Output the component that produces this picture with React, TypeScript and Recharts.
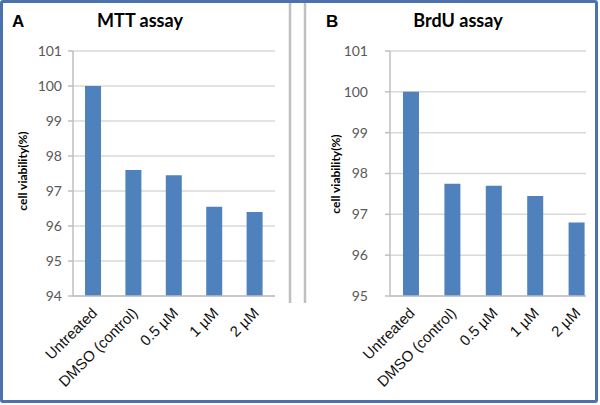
import React from 'react';
import { BarChart, Bar, XAxis, YAxis, CartesianGrid } from 'recharts';

// categories shared by both panels
const categories = ['Untreated', 'DMSO (control)', '0.5 µM', '1 µM', '2 µM'];
// cell viability (%)
const mttValues = [100, 97.6, 97.45, 96.55, 96.4];
const brduValues = [100, 97.75, 97.7, 97.45, 96.8];
const mttTicks = [94, 95, 96, 97, 98, 99, 100, 101];
const brduTicks = [95, 96, 97, 98, 99, 100, 101];

const mttData = categories.map((name, i) => ({ name, value: mttValues[i] }));
const brduData = categories.map((name, i) => ({ name, value: brduValues[i] }));

const barColor = '#4F81BD';
const axisGray = '#BFBFBF';
const gridGray = '#D9D9D9';
const tickFont = 'Lato, "Open Sans", sans-serif';
const labelFont = '"Liberation Sans", Arial, sans-serif';

const RotatedTick = (props: any) => {
  const { x, y, payload } = props;
  const ax = x + 5;
  const ay = y + 18;
  return (
    <text
      x={ax}
      y={ay}
      transform={`rotate(-45 ${ax} ${ay})`}
      textAnchor="end"
      fill="#111"
      fontSize={15}
      fontFamily={labelFont}
    >
      {payload.value}
    </text>
  );
};

export default function App() {
  return (
    <div style={{ position: 'absolute', left: 0, top: 0, width: 600, height: 405, background: '#fff', overflow: 'hidden' }}>
      {/* Panel A */}
      <div style={{ position: 'absolute', left: 0, top: 0 }}>
        <BarChart width={290} height={405} data={mttData} margin={{ top: 51, right: 15, bottom: 0, left: 0 }} barSize={16}>
          <CartesianGrid vertical={false} stroke={gridGray} strokeWidth={1.5} />
          <XAxis dataKey="name" interval={0} tickLine={false} tickSize={0} tickMargin={0} height={109}
            axisLine={{ stroke: axisGray, strokeWidth: 1.5 }} tick={<RotatedTick />} />
          <YAxis domain={[94, 101]} ticks={mttTicks} width={73} tickSize={5} tickMargin={6}
            axisLine={{ stroke: axisGray, strokeWidth: 1.5 }} tickLine={{ stroke: axisGray, strokeWidth: 1.5 }}
            tick={{ fill: '#595959', fontSize: 14, fontFamily: tickFont }} />
          <Bar dataKey="value" fill={barColor} isAnimationActive={false} />
        </BarChart>
      </div>
      {/* Panel B */}
      <div style={{ position: 'absolute', left: 300, top: 0 }}>
        <BarChart width={300} height={405} data={brduData} margin={{ top: 51, right: 14, bottom: 0, left: 0 }} barSize={16}>
          <CartesianGrid vertical={false} stroke={gridGray} strokeWidth={1.5} />
          <XAxis dataKey="name" interval={0} tickLine={false} tickSize={0} tickMargin={0} height={109}
            padding={{ left: 0, right: -11 }}
            axisLine={{ stroke: axisGray, strokeWidth: 1.5 }} tick={<RotatedTick />} />
          <YAxis domain={[95, 101]} ticks={brduTicks} width={90} tickSize={5} tickMargin={17}
            axisLine={{ stroke: axisGray, strokeWidth: 1.5 }} tickLine={{ stroke: axisGray, strokeWidth: 1.5 }}
            tick={{ fill: '#595959', fontSize: 14, fontFamily: tickFont }} />
          <Bar dataKey="value" fill={barColor} isAnimationActive={false} />
        </BarChart>
      </div>
      {/* titles, letters, separators */}
      <svg width={600} height={405} style={{ position: 'absolute', left: 0, top: 0, pointerEvents: 'none' }}>
        <line x1={290} y1={3} x2={290} y2={303} stroke={axisGray} strokeWidth={2.5} />
        <line x1={305} y1={3} x2={305} y2={303} stroke={axisGray} strokeWidth={2.5} />
        <text x={12} y={27} fontSize={17} fontWeight="bold" fontFamily={labelFont}>A</text>
        <text x={326} y={27} fontSize={17} fontWeight="bold" fontFamily={labelFont}>B</text>
        <text x={140} y={27} textAnchor="middle" fontSize={18} fontWeight="bold" fontFamily={tickFont}>MTT assay</text>
        <text x={458} y={27} textAnchor="middle" fontSize={18} fontWeight="bold" fontFamily={tickFont}>BrdU assay</text>
        <text x={27} y={171} transform="rotate(-90 27 171)" textAnchor="middle" fontSize={12} fontWeight="bold" fontFamily={tickFont}>cell viability(%)</text>
        <text x={340} y={174} transform="rotate(-90 340 174)" textAnchor="middle" fontSize={12} fontWeight="bold" fontFamily={tickFont}>cell viability(%)</text>
      </svg>
      <div style={{ position: 'absolute', left: 0, top: 0, width: 598, height: 403, boxSizing: 'border-box', border: '3px solid #4A72AD', borderRadius: 3 }} />
    </div>
  );
}
